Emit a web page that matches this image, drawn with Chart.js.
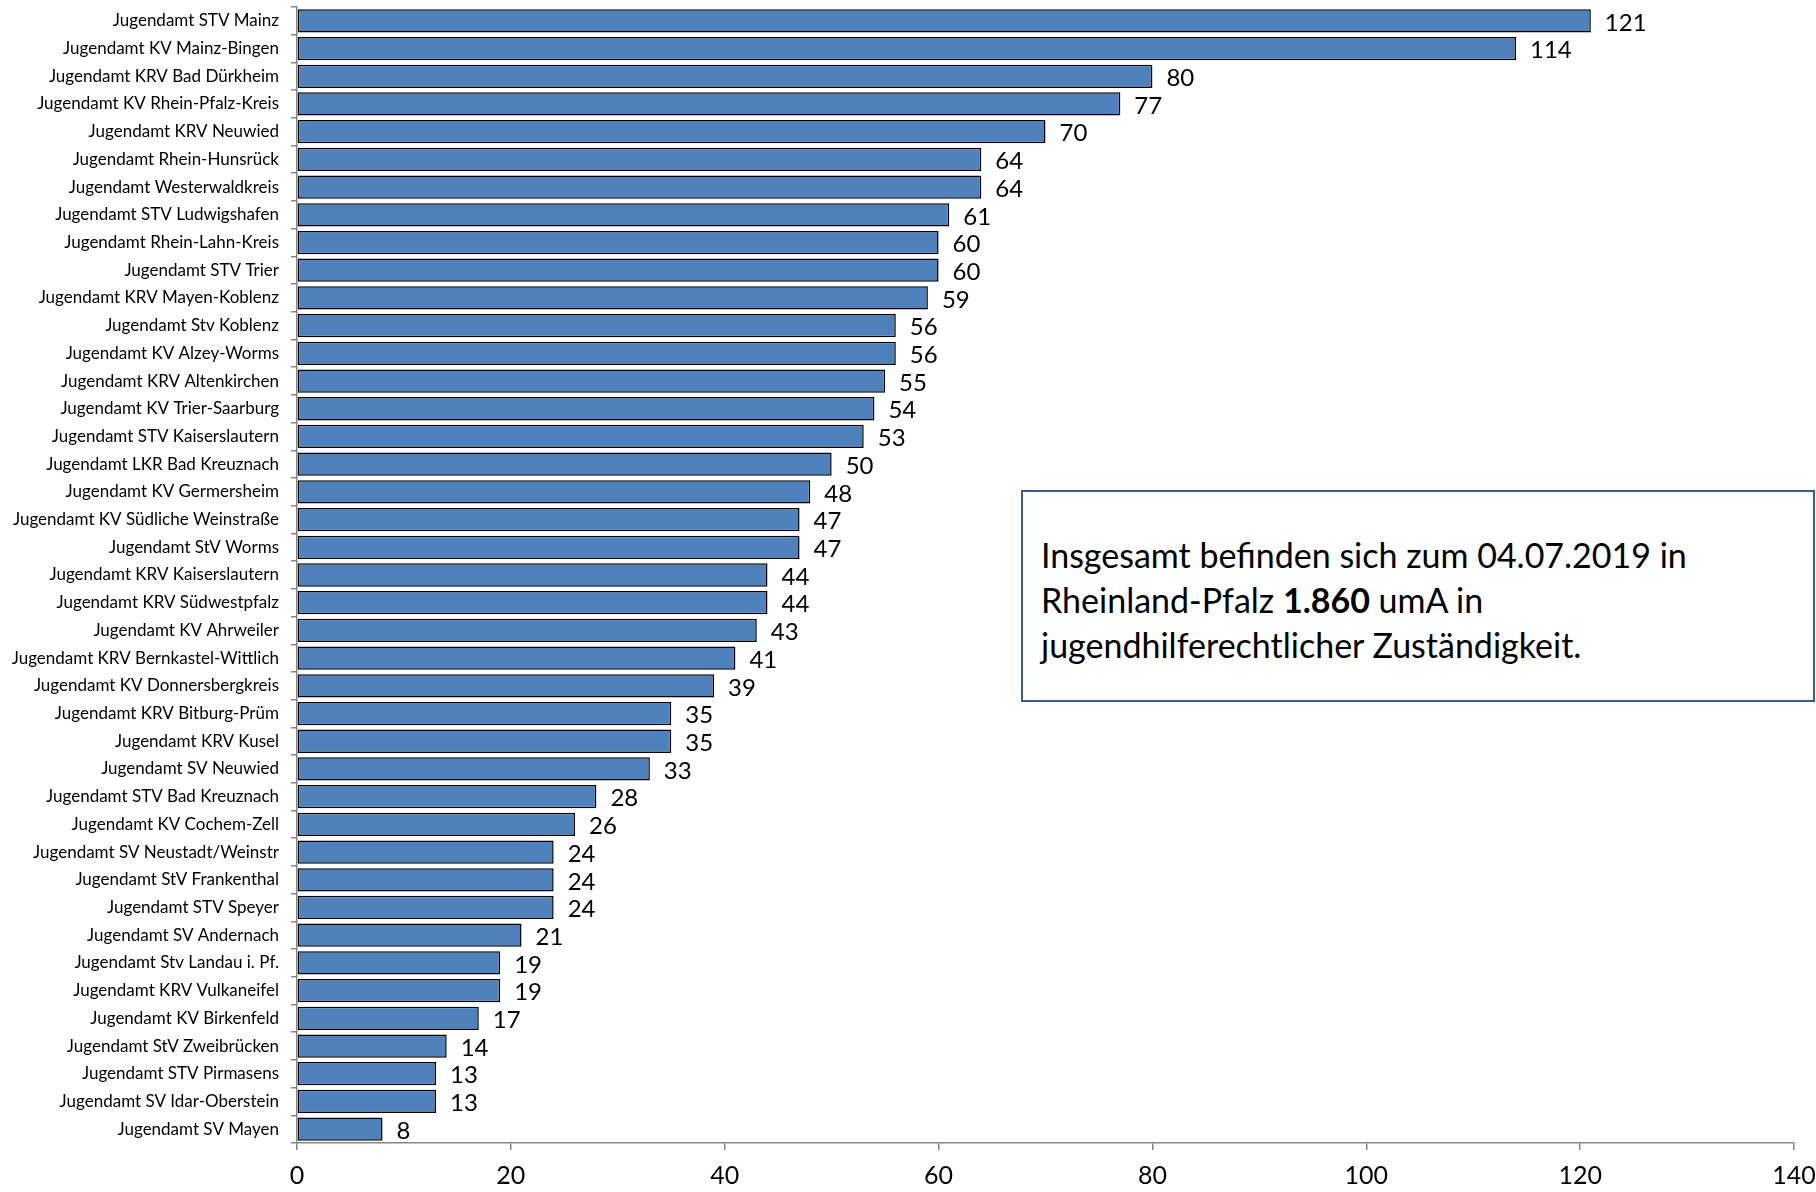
<!DOCTYPE html>
<html>
<head>
<meta charset="utf-8">
<script src="https://cdn.jsdelivr.net/npm/chart.js@4/dist/chart.umd.min.js"></script>
<style>
  html, body { margin: 0; padding: 0; background: #fff; }
  #wrap { position: relative; width: 1816px; height: 1192px; }
  #info {
    position: absolute; left: 1021px; top: 490px; width: 794px; height: 212px;
    border: 2px solid #385d8a; box-sizing: border-box; background: #fff;
    font-family: Lato, "Open Sans", sans-serif; font-size: 34px; line-height: 45px;
    color: #000; padding: 40px 0 0 18px;
  }
</style>
</head>
<body>
<div id="wrap">
  <canvas id="barChart" width="1816" height="1192"></canvas>
  <div id="info">Insgesamt befinden sich zum 04.07.2019 in<br>Rheinland-Pfalz <b>1.860</b> umA in<br>jugendhilferechtlicher Zuständigkeit.</div>
</div>
<script>
/** Daten */
let jugendaemter = ["Jugendamt STV Mainz", "Jugendamt KV Mainz-Bingen", "Jugendamt KRV Bad Dürkheim",
  "Jugendamt KV Rhein-Pfalz-Kreis", "Jugendamt KRV Neuwied", "Jugendamt Rhein-Hunsrück",
  "Jugendamt Westerwaldkreis", "Jugendamt STV Ludwigshafen", "Jugendamt Rhein-Lahn-Kreis",
  "Jugendamt STV Trier", "Jugendamt KRV Mayen-Koblenz", "Jugendamt Stv Koblenz",
  "Jugendamt KV Alzey-Worms", "Jugendamt KRV Altenkirchen", "Jugendamt KV Trier-Saarburg",
  "Jugendamt STV Kaiserslautern", "Jugendamt LKR Bad Kreuznach", "Jugendamt KV Germersheim",
  "Jugendamt KV Südliche Weinstraße", "Jugendamt StV Worms", "Jugendamt KRV Kaiserslautern",
  "Jugendamt KRV Südwestpfalz", "Jugendamt KV Ahrweiler", "Jugendamt KRV Bernkastel-Wittlich",
  "Jugendamt KV Donnersbergkreis", "Jugendamt KRV Bitburg-Prüm", "Jugendamt KRV Kusel",
  "Jugendamt SV Neuwied", "Jugendamt STV Bad Kreuznach", "Jugendamt KV Cochem-Zell",
  "Jugendamt SV Neustadt/Weinstr", "Jugendamt StV Frankenthal", "Jugendamt STV Speyer",
  "Jugendamt SV Andernach", "Jugendamt Stv Landau i. Pf.", "Jugendamt KRV Vulkaneifel",
  "Jugendamt KV Birkenfeld", "Jugendamt StV Zweibrücken", "Jugendamt STV Pirmasens",
  "Jugendamt SV Idar-Oberstein", "Jugendamt SV Mayen"]

let anzahl_uma = [121, 114, 80, 77, 70, 64, 64, 61, 60, 60, 59, 56, 56, 55, 54, 53, 50, 48, 47, 47,
  44, 44, 43, 41, 39, 35, 35, 33, 28, 26, 24, 24, 24, 21, 19, 19, 17, 14, 13, 13, 8]

let x_min = 0
let x_max = 140
let x_step = 20

let fuente = "Lato, 'Open Sans', sans-serif"
let grau = "#868686"

/** Werte an die Balken schreiben */
let wert_labels = {
  id: "wertLabels",
  afterDatasetsDraw: function(chart) {
    let ctx = chart.ctx
    let meta = chart.getDatasetMeta(0)
    ctx.save()
    ctx.fillStyle = "#000"
    ctx.font = "24px " + fuente
    ctx.textAlign = "left"
    ctx.textBaseline = "middle"
    meta.data.forEach(function(bar, i) {
      ctx.fillText(String(anzahl_uma[i]), bar.x + 14, bar.y + 2)
    })
    ctx.restore()
  }
}

var ctx = document.getElementById("barChart").getContext("2d")
var barChart = new Chart(ctx, {
  type: "bar",
  data: {
    labels: jugendaemter,
    datasets: [{
      data: anzahl_uma,
      backgroundColor: "#4f81bd",
      borderColor: "#000000",
      borderWidth: 1.5,
      borderSkipped: false,
      categoryPercentage: 0.84,
      barPercentage: 1.0
    }]
  },
  options: {
    indexAxis: "y",
    responsive: false,
    animation: false,
    devicePixelRatio: 1,
    layout: { padding: { top: 7, right: 22, left: 0, bottom: 0 } },
    plugins: { legend: { display: false }, tooltip: { enabled: false } },
    scales: {
      x: {
        min: x_min, max: x_max,
        ticks: { stepSize: x_step, color: "#000", font: { family: fuente, size: 25 }, padding: 11 },
        grid: { drawOnChartArea: false, drawTicks: true, tickLength: 7, color: grau, lineWidth: 1.5 },
        border: { color: grau, width: 1.5 },
        afterFit: function(scale) {
          scale.height = 49
          scale.paddingLeft = 0
          scale.paddingRight = 0
        }
      },
      y: {
        ticks: { color: "#000", font: { family: fuente, size: 17 }, padding: 12, autoSkip: false },
        grid: { offset: true, drawOnChartArea: false, drawTicks: true, tickLength: 6, color: grau, lineWidth: 1.5 },
        border: { color: grau, width: 1.5 },
        afterFit: function(scale) {
          scale.width = 297
          scale.paddingTop = 0
          scale.paddingBottom = 0
        }
      }
    }
  },
  plugins: [wert_labels]
})
</script>
</body>
</html>
